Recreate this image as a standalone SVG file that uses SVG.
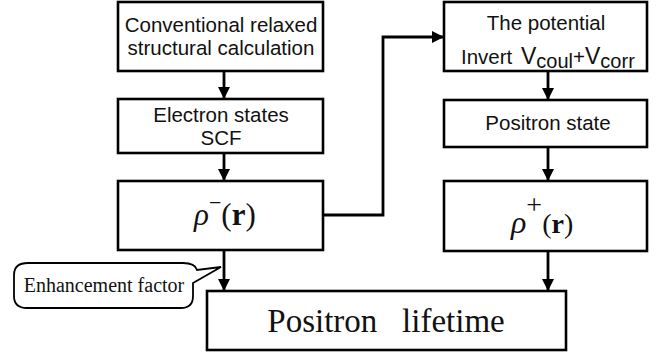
<svg xmlns="http://www.w3.org/2000/svg" width="658" height="356" viewBox="0 0 658 356">
<style>
.box{fill:#fff;stroke:#000;stroke-width:2.6}
.sans{font-family:"Liberation Sans",Arial,sans-serif;font-size:20.5px;fill:#111;text-anchor:middle}
.serif{font-family:"Liberation Serif","Times New Roman",serif;fill:#111}
.conn{fill:none;stroke:#000;stroke-width:2.8}
</style>
<defs>
<marker id="ah" markerUnits="userSpaceOnUse" markerWidth="13" markerHeight="12" refX="12" refY="6" orient="auto">
<path d="M0,0 L12,6 L0,12 Z" fill="#000"/>
</marker>
</defs>
<rect width="658" height="356" fill="#fff"/>
<g id="connectors">
<line class="conn" x1="224" y1="71" x2="224" y2="99" marker-end="url(#ah)"/>
<line class="conn" x1="224" y1="153" x2="224" y2="181" marker-end="url(#ah)"/>
<line class="conn" x1="224" y1="250" x2="224" y2="291" marker-end="url(#ah)"/>
<line class="conn" x1="548" y1="71" x2="548" y2="100" marker-end="url(#ah)"/>
<line class="conn" x1="548" y1="147" x2="548" y2="181" marker-end="url(#ah)"/>
<line class="conn" x1="548" y1="251" x2="548" y2="291" marker-end="url(#ah)"/>
<polyline class="conn" points="323,215 383,215 383,37 444,37" marker-end="url(#ah)"/>
</g>
<g id="n_conventional">
<rect class="box" x="118" y="2" width="205" height="69"/>
<text class="sans" x="221" y="32">Conventional relaxed</text>
<text class="sans" x="221" y="55">structural calculation</text>
</g>
<g id="n_electron">
<rect class="box" x="118" y="99" width="205" height="54"/>
<text class="sans" x="221" y="122">Electron states</text>
<text class="sans" x="221" y="145">SCF</text>
</g>
<g id="n_rho_minus">
<rect class="box" x="118" y="181" width="205" height="69"/>
<text class="serif" x="194" y="225" font-size="31"><tspan font-style="italic">ρ</tspan><tspan font-size="22" dy="-15">−</tspan><tspan dy="15">(</tspan><tspan font-weight="bold">r</tspan>)</text>
</g>
<g id="n_potential">
<rect class="box" x="444" y="2" width="203" height="69"/>
<text class="sans" x="546" y="30">The potential</text>
<text class="sans" x="461" y="64" style="text-anchor:start">Invert <tspan font-size="23" dx="3">V</tspan><tspan font-size="20" dy="4">coul</tspan><tspan dy="-4">+</tspan><tspan font-size="23">V</tspan><tspan font-size="20" dy="4">corr</tspan></text>
</g>
<g id="n_positron_state">
<rect class="box" x="444" y="100" width="203" height="47"/>
<text class="sans" x="548" y="130">Positron state</text>
</g>
<g id="n_rho_plus">
<rect class="box" x="444" y="181" width="203" height="70"/>
<text class="serif" x="511" y="233" font-size="28"><tspan font-style="italic" font-size="32">ρ</tspan><tspan font-size="28" dy="-19">+</tspan><tspan dy="19">(</tspan><tspan font-weight="bold">r</tspan>)</text>
</g>
<g id="n_lifetime">
<rect class="box" x="207" y="291" width="359" height="59"/>
<text class="serif" x="386" y="332" font-size="33" text-anchor="middle" xml:space="preserve">Positron   lifetime</text>
</g>
<g id="n_enhancement">
<path d="M28,263 L183,263 Q195,263 197,270 L221,267 L193,283 L193,296 Q193,308 181,308 L27,308 Q14,308 14,296 L14,275 Q14,263 28,263 Z" fill="#fff" stroke="#000" stroke-width="1.8"/>
<text class="serif" x="104" y="292" font-size="20" text-anchor="middle">Enhancement factor</text>
</g>
</svg>
